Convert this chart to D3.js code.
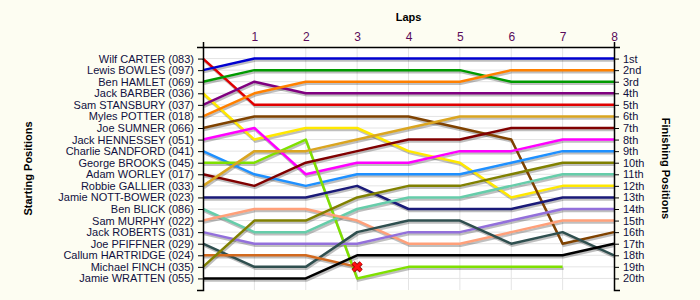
<!DOCTYPE html>
<html>
<head>
<meta charset="utf-8">
<script src="https://cdn.jsdelivr.net/npm/d3@7"></script>
<style>
  body { margin: 0; background: #fdfdf2; }
  text { font-family: "Liberation Sans", Arial, sans-serif; }
</style>
</head>
<body>
<div id="chart"></div>
<script>
// drivers in starting order
const drivers = [
  "Wilf CARTER (083)", "Lewis BOWLES (097)", "Ben HAMLET (069)", "Jack BARBER (036)",
  "Sam STANSBURY (037)", "Myles POTTER (018)", "Joe SUMNER (066)", "Jack HENNESSEY (051)",
  "Charlie SANDFORD (041)", "George BROOKS (045)", "Adam WORLEY (017)", "Robbie GALLIER (033)",
  "Jamie NOTT-BOWER (023)", "Ben BLICK (086)", "Sam MURPHY (022)", "Jack ROBERTS (031)",
  "Joe PFIFFNER (029)", "Callum HARTRIDGE (024)", "Michael FINCH (035)", "Jamie WRATTEN (055)"
];

const colors = [
  "#e00000", "#0000d0", "#009a00", "#ffe800", "#800080", "#ff8000", "#7f4200", "#ff00ff",
  "#1e90ff", "#7fe000", "#800000", "#daa520", "#1a1a78", "#66cdaa", "#ffa07a", "#9370db",
  "#2f4f4f", "#d2691e", "#808000", "#000000"
];

// position at lap 0..8 (null = not running)
const positions = [
  [1, 5, 5, 5, 5, 5, 5, 5, 5],
  [2, 1, 1, 1, 1, 1, 1, 1, 1],
  [3, 2, 2, 2, 2, 2, 3, 3, 3],
  [4, 8, 7, 7, 9, 10, 13, 12, 12],
  [5, 3, 4, 4, 4, 4, 4, 4, 4],
  [6, 4, 3, 3, 3, 3, 2, 2, 2],
  [7, 6, 6, 6, 6, 7, 8, 17, 16],
  [8, 7, 11, 10, 10, 9, 9, 8, 8],
  [9, 11, 12, 11, 11, 11, 10, 9, 9],
  [10, 10, 8, 20, 19, 19, 19, 19, null],
  [11, 12, 10, 9, 8, 8, 7, 7, 7],
  [12, 9, 9, 8, 7, 6, 6, 6, 6],
  [13, 13, 13, 12, 14, 14, 14, 13, 13],
  [14, 16, 16, 14, 13, 13, 12, 11, 11],
  [15, 14, 14, 15, 17, 17, 16, 15, 15],
  [16, 17, 17, 17, 16, 16, 15, 14, 14],
  [17, 19, 19, 16, 15, 15, 17, 16, 18],
  [18, 18, 18, 19, null, null, null, null, null],
  [19, 15, 15, 13, 12, 12, 11, 10, 10],
  [20, 20, 20, 18, 18, 18, 18, 18, 17]
];

// retirements: driver index, lap
const retired = [{ driver: 17, lap: 3 }];

const laps = [0, 1, 2, 3, 4, 5, 6, 7, 8];
const finishLabels = ["1st", "2nd", "3rd", "4th", "5th", "6th", "7th", "8th", "9th", "10th",
  "11th", "12th", "13th", "14th", "15th", "16th", "17th", "18th", "19th", "20th"];

const width = 700, height = 300;
const margin = { top: 47, right: 86, bottom: 10, left: 203 };

const svg = d3.select("#chart").append("svg")
  .attr("width", width)
  .attr("height", height);

const x = d3.scaleLinear().domain([0, 8]).range([margin.left, width - margin.right]);
const y = d3.scaleLinear().domain([0, 21]).range([margin.top, height - margin.bottom]);

// plot background
svg.append("rect")
  .attr("x", x(0)).attr("y", y(0))
  .attr("width", x(8) - x(0)).attr("height", y(21) - y(0))
  .attr("fill", "#ffffff");

// grid
svg.append("g").selectAll("line")
  .data(d3.range(1, 21))
  .enter().append("line")
  .attr("x1", x(0)).attr("x2", x(8))
  .attr("y1", d => y(d)).attr("y2", d => y(d))
  .attr("stroke", "#e4e4e4");

svg.append("g").selectAll("line")
  .data(laps.slice(1, 8))
  .enter().append("line")
  .attr("x1", d => x(d)).attr("x2", d => x(d))
  .attr("y1", y(0)).attr("y2", y(21))
  .attr("stroke", "#e4e4e4");

const line = d3.line()
  .defined(d => d.pos !== null)
  .x(d => x(d.lap))
  .y(d => y(d.pos));

const series = positions.map((p, i) => ({
  color: colors[i],
  points: p.map((pos, lap) => ({ lap: lap, pos: pos }))
}));

// shadows first
svg.append("g")
  .attr("transform", "translate(1,2)")
  .selectAll("path")
  .data(series)
  .enter().append("path")
  .attr("d", d => line(d.points))
  .attr("fill", "none")
  .attr("stroke", "#000")
  .attr("stroke-opacity", 0.25)
  .attr("stroke-width", 2.5);

svg.append("g")
  .selectAll("path")
  .data(series)
  .enter().append("path")
  .attr("d", d => line(d.points))
  .attr("fill", "none")
  .attr("stroke", d => d.color)
  .attr("stroke-width", 2.5)
  .attr("stroke-linejoin", "round");

// retirement crosses
const cross = svg.append("g").selectAll("g")
  .data(retired)
  .enter().append("g")
  .attr("transform", d => `translate(${x(d.lap)},${y(positions[d.driver][d.lap])})`);
cross.append("path")
  .attr("d", "M-4,-4L4,4M4,-4L-4,4")
  .attr("stroke", "#800000").attr("stroke-width", 4.5);
cross.append("path")
  .attr("d", "M-4,-4L4,4M4,-4L-4,4")
  .attr("stroke", "#ff1010").attr("stroke-width", 3);

// axes
const leftAxis = svg.append("g")
  .attr("transform", `translate(${x(0)},0)`)
  .call(d3.axisLeft(y).tickValues(d3.range(1, 21)).tickFormat(d => drivers[d - 1]).tickSizeOuter(6).tickSizeInner(5).tickPadding(4));

const rightAxis = svg.append("g")
  .attr("transform", `translate(${x(8)},0)`)
  .call(d3.axisRight(y).tickValues(d3.range(1, 21)).tickFormat(d => finishLabels[d - 1]).tickSizeOuter(6).tickSizeInner(5).tickPadding(4));

const topAxis = svg.append("g")
  .attr("transform", `translate(0,${y(0)})`)
  .call(d3.axisTop(x).tickValues(laps.slice(1)).tickSizeInner(0).tickSizeOuter(5).tickPadding(6));

[leftAxis, rightAxis, topAxis].forEach(a => {
  a.select(".domain").attr("stroke", "#000").attr("stroke-width", 1.5);
  a.selectAll(".tick line").attr("stroke", "#000");
  a.selectAll("text")
    .style("font-family", "'Liberation Sans', Arial, sans-serif")
    .style("font-size", "11px")
    .attr("fill", "#101040");
});
topAxis.selectAll("text").style("font-size", "12px").attr("fill", "#5a0a5a");

// titles
svg.append("text")
  .attr("x", x(4)).attr("y", 21)
  .attr("text-anchor", "middle")
  .style("font-size", "11px").style("font-weight", "bold")
  .text("Laps");

svg.append("text")
  .attr("transform", `translate(32,${y(10.5)}) rotate(-90)`)
  .attr("text-anchor", "middle")
  .style("font-size", "11px").style("font-weight", "bold")
  .text("Starting Positions");

svg.append("text")
  .attr("transform", `translate(662,${y(10.5)}) rotate(90)`)
  .attr("text-anchor", "middle")
  .style("font-size", "11px").style("font-weight", "bold")
  .text("Finishing Positions");
</script>
</body>
</html>
